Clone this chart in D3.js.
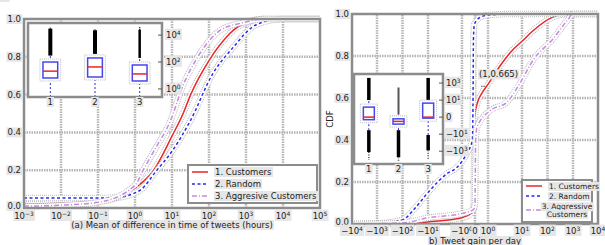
<!DOCTYPE html>
<meta charset="utf-8">
<title>CDF charts</title>
<style>
    body { margin: 0; background: #fff; }
    text { font-family: "DejaVu Sans", sans-serif; fill: #222; }
</style>
<body>
<script src="https://cdnjs.cloudflare.com/ajax/libs/d3/7.8.5/d3.min.js"></script>
<script>
    // ---- data (a): mean of difference in time of tweets, hours -> CDF
    var leftTicks = [1e-3, 1e-2, 1e-1, 1, 10, 1e2, 1e3, 1e4, 1e5];
    var leftTickExp = ["−3", "−2", "−1", "0", "1", "2", "3", "4", "5"];
    var yTicks = [0, 0.2, 0.4, 0.6, 0.8, 1.0];
    var seriesNames = ["1. Customers", "2. Random", "3. Aggresive Customers"];
    var customersA = [[1e-3, 0.02], [1e-2, 0.025], [1e-1, 0.037], [0.32, 0.055], [1, 0.105], [3.2, 0.2], [10, 0.38], [20, 0.5], [32, 0.6], [100, 0.78], [316, 0.91], [450, 0.94], [1000, 0.98], [3200, 1.0], [1e5, 1.0]];
    var randomA = [[1e-3, 0.053], [1e-1, 0.053], [0.32, 0.055], [1, 0.08], [1.4, 0.095], [3.9, 0.2], [10, 0.3], [31, 0.46], [126, 0.71], [450, 0.85], [1550, 0.96], [5400, 0.995], [1e4, 1.0], [1e5, 1.0]];
    var aggressiveA = [[1e-3, 0.01], [1e-2, 0.015], [1e-1, 0.03], [1, 0.12], [1.66, 0.2], [3.2, 0.3], [9, 0.46], [20, 0.65], [50, 0.8], [200, 0.94], [800, 0.98], [3200, 1.0], [1e5, 1.0]];
    // inset (a): boxplot per group [q1, median, q3, whiskerLow, whiskerHigh, fliersTop, sparseTop]
    var boxA = [[6.5, 21, 100, 0.2, 300, 30000, 40000], [7.7, 43, 200, 0.2, 400, 23000, 26000], [3.9, 13, 60, 0.2, 200, 25000, 40000]];
    var insetTicksA = [1, 100, 10000];
    var insetTickExpA = ["0", "2", "4"];

    // ---- data (b): tweet gain per day -> CDF
    var rightTicks = [-1e4, -1e3, -1e2, -10, -1, 0, 1, 10, 1e2, 1e3, 1e4];
    var rightTickLabels = [["−10", "4"], ["−10", "3"], ["−10", "2"], ["−10", "1"], ["−10", "0"], ["0", ""], ["10", "0"], ["10", "1"], ["10", "2"], ["10", "3"], ["10", "4"]];
    var customersB = [[-1e4, 0], [-100, 0.002], [-10, 0.01], [-1, 0.03], [-0.3, 0.05], [-0.1, 0.08], [-0.05, 0.5], [0.2, 0.58], [0.5, 0.62], [1, 0.665], [2.2, 0.75], [5.4, 0.83], [10, 0.87], [27, 0.92], [160, 0.985], [600, 1.0], [1e4, 1.0]];
    var randomB = [[-1e4, 0], [-1000, 0.003], [-100, 0.02], [-30, 0.08], [-10, 0.15], [-2.75, 0.24], [-1.4, 0.27], [-0.6, 0.34], [-0.2, 0.4], [-0.15, 0.6], [-0.12, 0.88], [-0.05, 0.95], [0.3, 0.98], [1, 0.995], [5, 1.0], [1e4, 1.0]];
    var aggressiveB = [[-1e4, 0], [-100, 0.005], [-10, 0.03], [-1, 0.05], [-0.1, 0.07], [0, 0.1], [0.05, 0.4], [0.15, 0.46], [1.15, 0.54], [3.6, 0.58], [8.7, 0.67], [27, 0.78], [160, 0.88], [600, 0.97], [1000, 1.0], [1e4, 1.0]];
    var boxB = [[-0.3, 0, 1.5, -3.4, 10, -1260, 4000, -11000], [-0.82, -0.5, -0.2, -3.4, 0.3, -5000, 300, -20000], [-0.12, 0, 4.4, -12.6, 10, -790, 4000, -10000]];
    var insetTicksB = [1000, 10, 0, -10, -1000];
    var insetTickLabelsB = [["10", "3"], ["10", "1"], ["0", ""], ["−10", "1"], ["−10", "3"]];
    var annot = [1, 0.665];

    var colors = ["#e8262a", "#2a2ae8", "#c58ae0"];
    var dashes = [null, "3,2.5", "5,2,1,2"];
    var gridColor = "#b4b4b4";

    var svg = d3.select("body").append("svg").attr("width", 605).attr("height", 245);

    // symlog-like transform: linear inside (-1, 1), one unit per decade outside
    function symU(v) { return Math.abs(v) < 1 ? v : Math.sign(v) * (1 + Math.log10(Math.abs(v))); }

    function halo(sel) {
        sel.each(function () {
            var b = this.getBBox();
            d3.select(this.parentNode).insert("rect", function () { return this; }.bind(this))
                .attr("x", b.x - 1).attr("y", b.y).attr("width", b.width + 2).attr("height", b.height)
                .attr("fill", "#e6e6e6");
        });
    }

    function supText(g, x, y, base, exp, size, anchor) {
        var t = g.append("text").attr("x", x).attr("y", y).attr("font-size", size).attr("text-anchor", anchor || "middle");
        t.append("tspan").text(base);
        if (exp) t.append("tspan").attr("dy", -size * 0.4).attr("font-size", size * 0.7).text(exp);
        return t;
    }

    function curve(g, pts, x, y, i) {
        var line = d3.line().x(function (d) { return x(d[0]); }).y(function (d) { return y(d[1]); }).curve(d3.curveMonotoneX);
        g.append("path").attr("d", line(pts)).attr("fill", "none").attr("stroke", "#b8b8b8").attr("stroke-width", 6.5).attr("stroke-dasharray", "1,1");
        g.append("path").attr("d", line(pts)).attr("fill", "none").attr("stroke", "#fff").attr("stroke-width", 4.5);
        g.append("path").attr("d", line(pts)).attr("fill", "none").attr("stroke", colors[i]).attr("stroke-width", 1.5)
            .attr("stroke-dasharray", dashes[i]);
    }

    function grid(g, xs, ys, x, y) {
        xs.forEach(function (v) {
            g.append("line").attr("x1", x(v)).attr("x2", x(v)).attr("y1", y.range()[0]).attr("y2", y.range()[1])
                .attr("stroke", gridColor).attr("stroke-width", 2.5).attr("stroke-dasharray", "1.5,1");
        });
        ys.forEach(function (v) {
            g.append("line").attr("y1", y(v)).attr("y2", y(v)).attr("x1", x.range()[0]).attr("x2", x.range()[x.range().length - 1])
                .attr("stroke", gridColor).attr("stroke-width", 2.5).attr("stroke-dasharray", "1.5,1");
        });
    }

    function frame(g, x0, y0, x1, y1) {
        g.append("rect").attr("x", x0).attr("y", y0).attr("width", x1 - x0).attr("height", y1 - y0)
            .attr("fill", "none").attr("stroke", "#8c8c8c").attr("stroke-width", 2.5);
    }

    function legend(g, x0, y0, w, h, rows, size) {
        g.append("rect").attr("x", x0).attr("y", y0).attr("width", w).attr("height", h).attr("fill", "#fff")
            .attr("stroke", "#8c8c8c").attr("stroke-width", 2);
        rows.forEach(function (r, i) {
            g.append("line").attr("x1", x0 + 4).attr("x2", x0 + 20).attr("y1", r.y).attr("y2", r.y)
                .attr("stroke", colors[i]).attr("stroke-width", 1.5).attr("stroke-dasharray", dashes[i]);
            r.lines.forEach(function (s, j) {
                var t = g.append("text").attr("x", r.x || x0 + 27).attr("y", r.y + 3 + (j - (r.lines.length - 1) / 2) * size)
                    .attr("font-size", size).attr("text-anchor", r.x ? "middle" : "start").text(s);
                halo(t);
            });
        });
    }

    function boxplot(g, data, x, y, w) {
        data.forEach(function (d, i) {
            var cx = x(i + 1), hw = (x(1 + w) - x(1)) / 2;
            g.append("line").attr("x1", cx).attr("x2", cx).attr("y1", y(d[3])).attr("y2", y(d[0]))
                .attr("stroke", colors[1]).attr("stroke-width", 1).attr("stroke-dasharray", "2,2");
            g.append("line").attr("x1", cx).attr("x2", cx).attr("y1", y(d[2])).attr("y2", y(d[4]))
                .attr("stroke", colors[1]).attr("stroke-width", 1).attr("stroke-dasharray", "2,2");
            g.append("rect").attr("x", cx - hw - 3).attr("y", y(d[2]) - 3).attr("width", 2 * hw + 6).attr("height", y(d[0]) - y(d[2]) + 6)
                .attr("fill", "#fff").attr("stroke", "#bbb").attr("stroke-width", 1).attr("stroke-dasharray", "1,1");
            g.append("rect").attr("x", cx - hw).attr("y", y(d[2])).attr("width", 2 * hw).attr("height", y(d[0]) - y(d[2]))
                .attr("fill", "#fff").attr("stroke", "#4646f0").attr("stroke-width", 1.5);
            g.append("line").attr("x1", cx - hw).attr("x2", cx + hw).attr("y1", y(d[1])).attr("y2", y(d[1]))
                .attr("stroke", colors[0]).attr("stroke-width", 1.5);
        });
    }

    // ================= panel (a)
    var ga = svg.append("g");
    var xa = d3.scaleLog().domain([1e-3, 1e5]).range([24, 320]);
    var ya = d3.scaleLinear().domain([0, 1]).range([208, 19]);
    grid(ga, leftTicks.slice(1, -1), yTicks.slice(1, -1), xa, ya);
    [customersA, randomA, aggressiveA].forEach(function (s, i) { curve(ga, s, xa, ya, i); });
    frame(ga, 24, 19, 320, 208);
    yTicks.forEach(function (v) {
        halo(ga.append("text").attr("x", 21).attr("y", ya(v) + 3 - (v === 0 ? 2 : 0)).attr("font-size", 8.5).attr("text-anchor", "end").text(v.toFixed(1)));
    });
    leftTicks.forEach(function (v, i) {
        halo(supText(ga, xa(v), 219, "10", leftTickExp[i], 8.5));
    });
    halo(ga.append("text").attr("x", 172).attr("y", 228).attr("font-size", 8.5).attr("text-anchor", "middle")
        .text("(a) Mean of difference in time of tweets (hours)"));
    legend(ga, 188, 165, 129, 38, seriesNames.map(function (s, i) { return {y: 172 + i * 12, lines: [s]}; }), 8.5);

    // inset (a)
    var gia = svg.append("g");
    var xia = d3.scaleLinear().domain([0.5, 3.5]).range([28, 162]);
    var yia = d3.scaleLog().domain([Math.pow(10, -0.6), Math.pow(10, 4.9)]).range([97, 23]).clamp(true);
    gia.append("rect").attr("x", 28).attr("y", 23).attr("width", 134).attr("height", 74).attr("fill", "#fff");
    boxA.forEach(function (d, i) {
        var cx = xia(i + 1);
        gia.append("line").attr("x1", cx).attr("x2", cx).attr("y1", yia(d[4])).attr("y2", yia(d[5]))
            .attr("stroke", "#000").attr("stroke-width", i === 2 ? 2.5 : 4);
        gia.append("line").attr("x1", cx).attr("x2", cx).attr("y1", yia(d[5])).attr("y2", yia(d[6]))
            .attr("stroke", "#000").attr("stroke-width", 1.5).attr("stroke-dasharray", "1,1");
    });
    boxplot(gia, boxA, xia, yia, 0.33);
    frame(gia, 28, 23, 162, 97);
    insetTicksA.forEach(function (v, i) {
        gia.append("line").attr("x1", 162).attr("x2", 158).attr("y1", yia(v)).attr("y2", yia(v)).attr("stroke", "#555");
        halo(supText(gia, 166, yia(v) + 3, "10", insetTickExpA[i], 8.5, "start"));
    });
    [1, 2, 3].forEach(function (v) {
        halo(gia.append("text").attr("x", xia(v)).attr("y", 105).attr("font-size", 8.5).attr("text-anchor", "middle").text(v));
    });

    // ================= panel (b)
    var gb = svg.append("g");
    var xbu = d3.scaleLinear().domain([-5, -4, -3, -2, -1, 0, 1, 2, 3, 4, 5])
        .range([352, 377, 402.5, 428, 462, 475, 488, 522, 547.5, 573, 598]);
    var xb = function (v) { return xbu(symU(v)); };
    xb.range = function () { return [352, 598]; };
    var yb = d3.scaleLinear().domain([0, 1]).range([224, 14]);
    grid(gb, rightTicks.slice(1, -1), yTicks.slice(1, -1), xb, yb);
    [customersB, randomB, aggressiveB].forEach(function (s, i) { curve(gb, s, xb, yb, i); });
    frame(gb, 352, 14, 598, 224);
    yTicks.forEach(function (v) {
        halo(gb.append("text").attr("x", 349).attr("y", yb(v) + 3 - (v === 0 ? 2 : 0)).attr("font-size", 8.5).attr("text-anchor", "end").text(v.toFixed(1)));
    });
    rightTicks.forEach(function (v, i) {
        halo(supText(gb, xb(v), 234, rightTickLabels[i][0], rightTickLabels[i][1], 8.5));
    });
    halo(gb.append("text").attr("x", 475).attr("y", 244).attr("font-size", 8.5).attr("text-anchor", "middle").text("b) Tweet gain per day"));
    halo(gb.append("text").attr("transform", "translate(333,119) rotate(-90)").attr("font-size", 8.5).attr("text-anchor", "middle").text("CDF"));
    halo(gb.append("text").attr("x", xb(annot[0]) - 9).attr("y", yb(annot[1]) - 7).attr("font-size", 8.5).text("(" + annot[0] + "," + annot[1] + ")"));
    gb.append("line").attr("x1", xb(annot[0]) - 7).attr("x2", xb(annot[0]) - 2).attr("y1", yb(annot[1]) + 2).attr("y2", yb(annot[1]) + 2)
        .attr("stroke", "#666").attr("stroke-dasharray", "1.5,1");
    legend(gb, 522, 180, 70, 42, [
        {y: 186, lines: [seriesNames[0]]},
        {y: 196, lines: [seriesNames[1]]},
        {y: 210, x: 567, lines: ["3. Aggressive", "Customers"]}
    ], 7.5);

    // inset (b)
    var gib = svg.append("g");
    var xib = d3.scaleLinear().domain([0.5, 3.5]).range([354, 443]);
    var yibu = d3.scaleLinear().domain([-5.5, 5.06]).range([164, 74]);
    var yib = function (v) { return yibu(symU(v)); };
    gib.append("rect").attr("x", 354).attr("y", 74).attr("width", 89).attr("height", 90).attr("fill", "#fff");
    boxB.forEach(function (d, i) {
        var cx = xib(i + 1);
        gib.append("line").attr("x1", cx).attr("x2", cx).attr("y1", yib(d[4])).attr("y2", yib(d[6]))
            .attr("stroke", i === 1 ? "#555" : "#000").attr("stroke-width", i === 1 ? 2 : 3.5);
        gib.append("line").attr("x1", cx).attr("x2", cx).attr("y1", yib(d[3])).attr("y2", yib(d[5]))
            .attr("stroke", "#000").attr("stroke-width", 3.5);
        gib.append("line").attr("x1", cx).attr("x2", cx).attr("y1", yib(d[5])).attr("y2", yib(d[7]))
            .attr("stroke", "#444").attr("stroke-width", 1.5).attr("stroke-dasharray", "1,1.5");
    });
    boxplot(gib, boxB, xib, yib, 0.37);
    frame(gib, 354, 74, 443, 164);
    insetTicksB.forEach(function (v, i) {
        gib.append("line").attr("x1", 443).attr("x2", 439).attr("y1", yib(v)).attr("y2", yib(v)).attr("stroke", "#555");
        halo(supText(gib, 446, yib(v) + 3, insetTickLabelsB[i][0], insetTickLabelsB[i][1], 8.5, "start"));
    });
    [1, 2, 3].forEach(function (v) {
        halo(gib.append("text").attr("x", xib(v)).attr("y", 172).attr("font-size", 8.5).attr("text-anchor", "middle").text(v));
    });
</script>
